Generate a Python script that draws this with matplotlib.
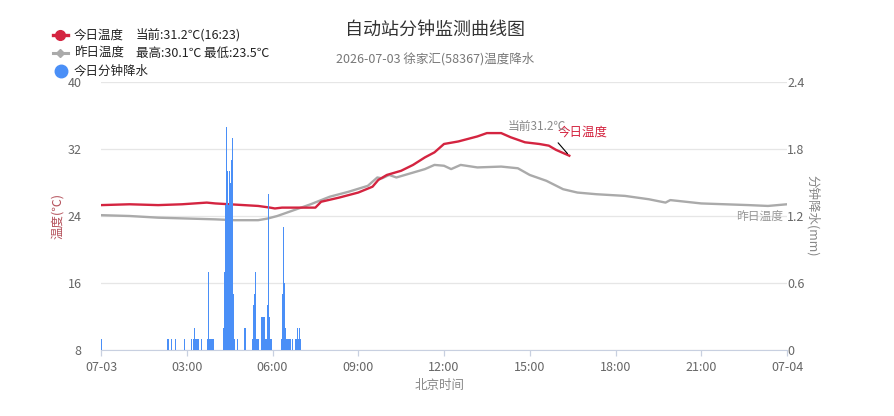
import matplotlib
matplotlib.use("Agg")
import matplotlib.pyplot as plt
from matplotlib.lines import Line2D

plt.rcParams["font.family"] = ["Noto Sans CJK SC", "DejaVu Sans"]

# x axis
tick_minutes = [0, 180, 360, 540, 720, 900, 1080, 1260, 1440]
tick_labels = ["07-03", "03:00", "06:00", "09:00", "12:00", "15:00", "18:00", "21:00", "07-04"]

# today's temperature (deg C)
today_time = ["00:00", "01:00", "02:00", "02:50", "03:42", "04:00", "04:30", "05:00", "05:30",
              "05:55", "06:05", "06:20", "07:30", "07:42", "08:20", "09:00", "09:30", "09:42",
              "10:00", "10:30", "10:55", "11:20", "11:40", "11:50", "12:00", "12:30", "13:10",
              "13:30", "14:00", "14:20", "14:50", "15:20", "15:40", "15:55", "16:23"]
today_temp = [25.3, 25.4, 25.3, 25.4, 25.6, 25.5, 25.4, 25.3, 25.2,
              25.0, 24.9, 25.0, 25.0, 25.7, 26.2, 26.8, 27.5, 28.3,
              28.9, 29.4, 30.1, 31.0, 31.6, 32.1, 32.6, 32.9, 33.5,
              33.9, 33.9, 33.4, 32.8, 32.6, 32.4, 31.9, 31.2]

# yesterday's temperature (deg C)
yest_time = ["00:00", "01:00", "02:00", "03:00", "04:00", "04:40", "05:30", "05:50", "06:10",
             "06:40", "07:20", "08:00", "08:40", "09:20", "09:40", "09:50", "10:05", "10:20",
             "10:50", "11:20", "11:40", "12:00", "12:15", "12:35", "13:10", "14:00", "14:35",
             "15:00", "15:35", "16:10", "16:40", "17:20", "18:20", "19:10", "19:45", "19:55",
             "21:00", "22:40", "23:20", "24:00"]
yest_temp = [24.1, 24.0, 23.8, 23.7, 23.6, 23.5, 23.5, 23.7, 24.0,
             24.6, 25.4, 26.3, 26.9, 27.6, 28.6, 28.5, 28.9, 28.6,
             29.1, 29.6, 30.1, 30.0, 29.6, 30.1, 29.8, 29.9, 29.7,
             28.9, 28.2, 27.2, 26.8, 26.6, 26.4, 26.0, 25.6, 25.9,
             25.5, 25.3, 25.2, 25.4]

# minute precipitation (mm)
rain_time = ["00:01", "02:19", "02:22", "02:27", "02:36", "02:56", "03:10",
             "03:14", "03:15", "03:16", "03:17", "03:18", "03:19", "03:20", "03:21", "03:22", "03:23", "03:24",
             "03:30",
             "03:44", "03:45", "03:46", "03:47", "03:48", "03:49", "03:50", "03:51", "03:52", "03:53", "03:54",
             "03:55", "03:56",
             "04:17", "04:18", "04:19", "04:20", "04:21", "04:22", "04:23", "04:24", "04:25", "04:26", "04:27",
             "04:28", "04:29", "04:30", "04:31", "04:32", "04:33", "04:34", "04:35", "04:36", "04:37", "04:38",
             "04:39", "04:40", "04:46",
             "05:02", "05:03", "05:04",
             "05:18", "05:19", "05:20", "05:21", "05:22", "05:23", "05:24", "05:25", "05:26", "05:27", "05:28",
             "05:30",
             "05:36", "05:37", "05:38", "05:39", "05:40", "05:41", "05:42", "05:43",
             "05:45", "05:47", "05:49", "05:51", "05:52", "05:54", "05:55", "05:56", "05:57", "05:58",
             "06:19", "06:20", "06:21", "06:22", "06:23", "06:24", "06:25", "06:26", "06:27", "06:28", "06:29",
             "06:30", "06:32", "06:34", "06:36", "06:38", "06:41",
             "06:48", "06:49", "06:50", "06:51", "06:53", "06:54", "06:56", "06:58"]
rain_mm = [0.1, 0.1, 0.1, 0.1, 0.1, 0.1, 0.1,
           0.1, 0.1, 0.2, 0.1, 0.1, 0.1, 0.1, 0.1, 0.1, 0.1, 0.1,
           0.1,
           0.1, 0.1, 0.7, 0.1, 0.1, 0.1, 0.1, 0.1, 0.1, 0.1, 0.1,
           0.1, 0.1,
           0.2, 0.2, 0.7, 0.7, 1.3, 1.3, 1.3, 2.0, 1.3, 1.6, 1.3,
           1.3, 1.3, 1.6, 1.3, 1.5, 1.3, 1.7, 1.3, 1.9, 0.5, 0.5,
           0.1, 0.1, 0.1,
           0.2, 0.2, 0.1,
           0.1, 0.1, 0.1, 0.4, 0.1, 0.5, 0.1, 0.7, 0.1, 0.1, 0.1,
           0.1,
           0.3, 0.3, 0.3, 0.3, 0.3, 0.3, 0.3, 0.3,
           0.1, 0.1, 0.4, 1.4, 1.4, 0.3, 0.1, 0.1, 0.1, 0.1,
           0.1, 0.1, 0.5, 0.5, 0.1, 1.1, 0.1, 0.6, 0.1, 0.2, 0.1,
           0.1, 0.1, 0.1, 0.1, 0.1, 0.1,
           0.1, 0.1, 0.1, 0.1, 0.2, 0.1, 0.2, 0.1]


def to_min(t):
    h, m = t.split(":")
    return int(h) * 60 + int(m)


today_x = [to_min(t) for t in today_time]
yest_x = [to_min(t) for t in yest_time]
rain_x = [to_min(t) for t in rain_time]

red = "#d42440"
gray = "#aaaaaa"
blue = "#4a8ff7"
W, H = 894, 416

fig = plt.figure(figsize=(W / 100, H / 100), dpi=100)
ax = fig.add_axes([101 / W, 66 / H, 686 / W, 268 / H])

ax.plot(yest_x, yest_temp, color=gray, lw=1.7, zorder=3)
ax.plot(today_x, today_temp, color=red, lw=1.7, zorder=4)

ax.set_xlim(0, 1440)
ax.set_ylim(8, 40)
ax.set_yticks([8, 16, 24, 32, 40])
ax.set_xticks(tick_minutes)
ax.set_xticklabels(tick_labels)
ax.grid(axis="y", color="#e6e6e6", lw=0.9)
ax.set_axisbelow(True)
for s in ["top", "left", "right"]:
    ax.spines[s].set_visible(False)
ax.spines["bottom"].set_color("#c8d0e0")
ax.tick_params(axis="y", length=0, pad=14, labelsize=9, labelcolor="#666666")
ax.tick_params(axis="x", length=4, width=0.9, color="#c8d0e0", pad=4,
               labelsize=9, labelcolor="#666666")

ax2 = ax.twinx()
ax2.bar(rain_x, rain_mm, width=2.2, color=blue, linewidth=0, zorder=5)
ax2.set_ylim(0, 2.4)
ax2.set_yticks([0, 0.6, 1.2, 1.8, 2.4])
ax2.set_yticklabels(["0", "0.6", "1.2", "1.8", "2.4"])
for s in ["top", "left", "right", "bottom"]:
    ax2.spines[s].set_visible(False)
ax2.tick_params(axis="y", length=0, pad=0, labelsize=9, labelcolor="#666666")
ax2.set_xlim(0, 1440)

# end labels
end_x, end_y = today_x[-1], today_temp[-1]
ax.annotate("", xy=(end_x, end_y), xytext=(-13, 15), textcoords="offset pixels",
            arrowprops=dict(arrowstyle="-", color="black", lw=0.8), zorder=6)
ax.annotate("今日温度", xy=(end_x, end_y), xytext=(-12, 17), textcoords="offset pixels",
            ha="left", va="bottom", fontsize=9, color=red, zorder=6)
ax.annotate("当前31.2℃", xy=(end_x, end_y), xytext=(-62, 23), textcoords="offset pixels",
            ha="left", va="bottom", fontsize=8.5, color="#888888", zorder=6)
ax.annotate("昨日温度", xy=(yest_x[-1], yest_temp[-1]), xytext=(-4, -6), textcoords="offset pixels",
            ha="right", va="top", fontsize=8.5, color="#999999", zorder=6)


def px(x, y):
    return x / W, 1 - y / H


# titles and axis names
fig.text(*px(435, 30), "自动站分钟监测曲线图", ha="center", va="center", fontsize=13, color="#333333")
fig.text(*px(435, 59), "2026-07-03 徐家汇(58367)温度降水", ha="center", va="center",
         fontsize=9, color="#777777")
fig.text(*px(440, 385), "北京时间", ha="center", va="center", fontsize=9, color="#888888")
fig.text(*px(58, 216), "温度(℃)", ha="center", va="center", rotation=90, fontsize=9, color="#b5525c")
fig.text(*px(813, 216), "分钟降水(mm)", ha="center", va="center", rotation=-90, fontsize=9,
         color="#888888")

# legend
fig.add_artist(Line2D([53 / W, 68 / W], [1 - 35 / H] * 2, color=red, lw=2.4,
                      transform=fig.transFigure))
fig.add_artist(Line2D([60.5 / W], [1 - 35 / H], color=red, marker="o", markersize=7,
                      lw=0, transform=fig.transFigure))
fig.add_artist(Line2D([53 / W, 68 / W], [1 - 53 / H] * 2, color=gray, lw=2.2,
                      transform=fig.transFigure))
fig.add_artist(Line2D([60.5 / W], [1 - 53 / H], color=gray, marker="D", markersize=4,
                      lw=0, transform=fig.transFigure))
fig.add_artist(Line2D([61 / W], [1 - 71 / H], color=blue, marker="o", markersize=9,
                      lw=0, transform=fig.transFigure))
fig.text(*px(74, 35), "今日温度", va="center", fontsize=9, color="#222222")
fig.text(*px(136, 35), "当前:31.2℃(16:23)", va="center", fontsize=9, color="#222222")
fig.text(*px(74, 53), "昨日温度", va="center", fontsize=9, color="#222222")
fig.text(*px(136, 53), "最高:30.1℃ 最低:23.5℃", va="center", fontsize=9, color="#222222")
fig.text(*px(74, 71), "今日分钟降水", va="center", fontsize=9, color="#222222")

fig.savefig("out.png", dpi=100)
